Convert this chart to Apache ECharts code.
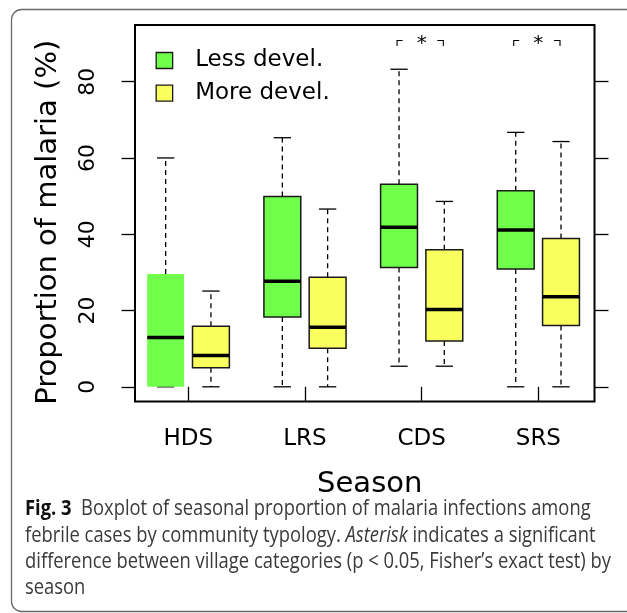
<!DOCTYPE html>
<html>
<head>
<meta charset="utf-8">
<script src="https://cdn.jsdelivr.net/npm/echarts@6/dist/echarts.min.js"></script>
<style>
  html, body { margin: 0; padding: 0; background: #fff; }
  #chart { width: 627px; height: 613px; }
</style>
</head>
<body>
<div id="chart"></div>
<script>
// ---- data ----
const seasons = ['HDS', 'LRS', 'CDS', 'SRS'];
const seriesNames = ['Less devel.', 'More devel.'];
// Less developed villages (min, Q1, median, Q3, max) per season
const lessMin = [0, 0, 5.4, 0];
const lessQ1  = [0, 18.3, 31.3, 30.9];
const lessMed = [12.95, 27.7, 41.8, 41.1];
const lessQ3  = [29.6, 49.9, 53.1, 51.4];
const lessMax = [60.0, 65.3, 83.25, 66.7];
// More developed villages
const moreMin = [0, 0, 5.4, 0];
const moreQ1  = [5.0, 10.1, 12.0, 16.1];
const moreMed = [8.2, 15.6, 20.3, 23.6];
const moreQ3  = [15.85, 28.7, 35.9, 38.9];
const moreMax = [25.1, 46.6, 48.6, 64.3];
// significance (Fisher's exact test, p < 0.05)
const significant = [false, false, true, true];
const yTicks = [0, 20, 40, 60, 80];
const xTicks = [1, 2, 3, 4];

const GREEN = '#70ff4b';
const YELLOW = '#f9ff5e';
const FONT = 'DejaVu Sans';

function rows(mn, q1, md, q3, mx) {
  return seasons.map((s, i) => [i + 1, mn[i], q1[i], md[i], q3[i], mx[i]]);
}

const OFFSET = 0.194;   // box centre offset from season centre (axis units)
const HALF_BOX = 0.158; // half box width (axis units)
const HALF_CAP = 0.074; // half whisker cap width (axis units)

function makeRender(offset, fill, isLess) {
  return function (params, api) {
    const x = api.value(0) + offset;
    const pMin = api.coord([x, api.value(1)]);
    const pQ1 = api.coord([x, api.value(2)]);
    const pMed = api.coord([x, api.value(3)]);
    const pQ3 = api.coord([x, api.value(4)]);
    const pMax = api.coord([x, api.value(5)]);
    const unit = api.size([1, 0])[0];
    const hb = HALF_BOX * unit;
    const hc = HALF_CAP * unit;
    const cx = pMed[0];
    const dash = { stroke: '#000', lineWidth: 1.3, lineDash: [5, 4] };
    const solid = { stroke: '#000', lineWidth: 1.3 };
    const outline = !(isLess && params.dataIndex === 0);
    return {
      type: 'group',
      children: [
        { type: 'line', shape: { x1: cx, y1: pQ3[1], x2: cx, y2: pMax[1] }, style: dash },
        { type: 'line', shape: { x1: cx, y1: pQ1[1], x2: cx, y2: pMin[1] }, style: dash },
        { type: 'line', shape: { x1: cx - hc, y1: pMax[1], x2: cx + hc, y2: pMax[1] }, style: solid },
        { type: 'line', shape: { x1: cx - hc, y1: pMin[1], x2: cx + hc, y2: pMin[1] }, style: solid },
        { type: 'rect', shape: { x: cx - hb, y: pQ3[1], width: 2 * hb, height: pQ1[1] - pQ3[1] },
          style: { fill: fill, stroke: outline ? '#1a1a1a' : null, lineWidth: outline ? 1.5 : 0 } },
        { type: 'line', shape: { x1: cx - hb, y1: pMed[1], x2: cx + hb, y2: pMed[1] },
          style: { stroke: '#000', lineWidth: 3.5 } }
      ]
    };
  };
}

const SIG_LEVEL = 90.8;
function renderSig(params, api) {
  const c = api.value(0);
  const g = api.coord([c - OFFSET, SIG_LEVEL]);
  const yv = api.coord([c + OFFSET, SIG_LEVEL]);
  const m = api.coord([c, SIG_LEVEL]);
  const st = { stroke: '#000', lineWidth: 1.1, fill: null };
  return {
    type: 'group',
    children: [
      { type: 'polyline', shape: { points: [[g[0] - 2, g[1] + 5.6], [g[0] - 2, g[1]], [g[0] + 3.5, g[1]]] }, style: st },
      { type: 'polyline', shape: { points: [[yv[0] - 7, yv[1]], [yv[0] - 1, yv[1]], [yv[0] - 1, yv[1] + 5.6]] }, style: st },
      { type: 'text', x: m[0], y: m[1] + 3.5, style: { text: '*', fontSize: 20, fontFamily: FONT, fill: '#000', align: 'center', verticalAlign: 'middle' } }
    ]
  };
}

const sigData = seasons.map((s, i) => [i + 1]).filter((d, i) => significant[i]);

// caption
const capLines = [
  '{b|Fig. 3}  Boxplot of seasonal proportion of malaria infections among',
  'febrile cases by community typology. {i|Asterisk} indicates a significant',
  'difference between village categories (p < 0.05, Fisher\u2019s exact test) by',
  'season'
];
const CAP_FONT = 'Open Sans';
const CAP_SIZE = 21;
const mctx = document.createElement('canvas').getContext('2d');
mctx.font = CAP_SIZE + 'px "' + CAP_FONT + '"';
const capScale = 586 / mctx.measureText(capLines[2]).width;

const capGraphics = capLines.map((t, k) => ({
  type: 'text',
  x: 25,
  y: 520 + k * 26.2,
  scaleX: capScale,
  style: {
    text: t,
    fontSize: CAP_SIZE,
    fontFamily: CAP_FONT,
    fill: '#3a3a3a',
    verticalAlign: 'bottom',
    align: 'left',
    rich: {
      b: { fontWeight: 'bold', fontSize: CAP_SIZE, fontFamily: CAP_FONT, fill: '#111' },
      i: { fontStyle: 'italic', fontSize: CAP_SIZE, fontFamily: CAP_FONT, fill: '#3a3a3a' }
    }
  }
}));

const chart = echarts.init(document.getElementById('chart'), null, { renderer: 'canvas' });
chart.setOption({
  animation: false,
  backgroundColor: '#fff',
  grid: {
    left: 135, right: 32.5, top: 25, bottom: 211.5,
    show: true, borderColor: '#000', borderWidth: 2, backgroundColor: 'transparent'
  },
  legend: {
    orient: 'vertical',
    left: 155.5, top: 49,
    padding: 0,
    itemWidth: 16.5, itemHeight: 16, itemGap: 9.7,
    icon: 'rect',
    selectedMode: false,
    textStyle: { fontSize: 23, fontFamily: FONT, color: '#000', lineHeight: 23, padding: [0, 0, 0, 17.5] },
    data: [
      { name: seriesNames[0], itemStyle: { color: GREEN, borderColor: '#1a1a1a', borderWidth: 1.3 } },
      { name: seriesNames[1], itemStyle: { color: YELLOW, borderColor: '#1a1a1a', borderWidth: 1.3 } }
    ]
  },
  xAxis: {
    type: 'value',
    min: 0.5433, max: 4.481,
    name: 'Season',
    nameLocation: 'middle',
    nameGap: 68,
    nameTextStyle: { fontSize: 29, fontFamily: FONT, color: '#000', padding: [0, 0, 0, 10] },
    axisLine: { show: false },
    splitLine: { show: false },
    axisTick: { show: true, customValues: xTicks, length: 14, lineStyle: { color: '#000', width: 1.3 } },
    axisLabel: {
      customValues: xTicks,
      formatter: v => seasons[Math.round(v) - 1],
      fontSize: 23, fontFamily: FONT, color: '#000', margin: 26
    }
  },
  yAxis: [{
    type: 'value',
    min: -3.85, max: 94.85,
    name: 'Proportion of malaria (%)',
    nameLocation: 'middle',
    nameGap: 72,
    nameTextStyle: { fontSize: 29, fontFamily: FONT, color: '#000', padding: [0, 18, 0, 0] },
    axisLine: { show: false },
    splitLine: { show: false },
    axisTick: { show: true, customValues: yTicks, length: 13.5, lineStyle: { color: '#000', width: 1.3 } },
    axisLabel: {
      customValues: yTicks, rotate: 90,
      fontSize: 22, fontFamily: FONT, color: '#000', margin: 36
    }
  }, {
    type: 'value',
    position: 'right',
    min: -3.85, max: 94.85,
    axisLine: { show: false },
    splitLine: { show: false },
    axisTick: { show: true, customValues: yTicks, length: 14, lineStyle: { color: '#000', width: 1.3 } },
    axisLabel: { show: false }
  }],
  series: [
    {
      name: seriesNames[0], type: 'custom',
      renderItem: makeRender(-OFFSET, GREEN, true),
      itemStyle: { color: GREEN },
      encode: { x: 0, y: [1, 2, 3, 4, 5] },
      data: rows(lessMin, lessQ1, lessMed, lessQ3, lessMax)
    },
    {
      name: seriesNames[1], type: 'custom',
      renderItem: makeRender(OFFSET, YELLOW, false),
      itemStyle: { color: YELLOW },
      encode: { x: 0, y: [1, 2, 3, 4, 5] },
      data: rows(moreMin, moreQ1, moreMed, moreQ3, moreMax)
    },
    {
      name: 'significance', type: 'custom',
      renderItem: renderSig,
      encode: { x: 0 },
      data: sigData,
      silent: true
    }
  ],
  graphic: [
    { type: 'rect', shape: { x: 11.5, y: 9.5, width: 640, height: 602, r: 10 },
      style: { fill: null, stroke: '#6a6a6a', lineWidth: 1.3 }, silent: true, z: -1 }
  ].concat(capGraphics)
});
</script>
</body>
</html>
